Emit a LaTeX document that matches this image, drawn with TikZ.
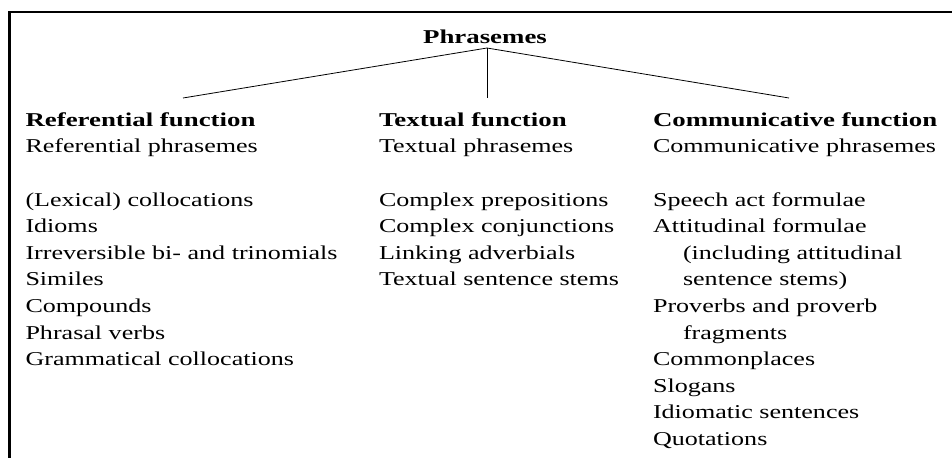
\documentclass[tikz,border=0pt]{standalone}
\usepackage{fontspec}
\setmainfont{Liberation Serif}[FakeStretch=1.33,BoldFeatures={FakeStretch=1.37}]
\usetikzlibrary{calc}
\begin{document}
\begin{tikzpicture}[x=0.75pt,y=-0.75pt,
  every node/.style={inner sep=0pt,outer sep=0pt,font=\fontsize{14.7}{20}\selectfont},
  title/.style={anchor=base,font=\fontsize{14.7}{20}\selectfont\bfseries},
  head/.style={anchor=base west,font=\fontsize{14.7}{20}\selectfont\bfseries},
  item/.style={anchor=base west},
  frame/.style={line width=1.7pt},
  branch/.style={line width=0.6pt}]
\useasboundingbox (0,0) rectangle (952,457);
% open frame: top and left rules
\draw[frame] (952,12.2) -- (9.5,12.2) -- (9.5,460);
% root
\node[title] (phr) at (485,43.3) {Phrasemes};
\coordinate (hub) at (487,48);
% column headings
\node[head] (ref) at (25.5,126) {Referential function};
\node[head] (txt) at (379,126) {Textual function};
\node[head] (com) at (653,126) {Communicative function};
\coordinate (refend) at (183,98);
\coordinate (txtend) at (487,98);
\coordinate (comend) at (789,98);
\draw[branch] (hub) -- (refend);
\draw[branch] (hub) -- (txtend);
\draw[branch] (hub) -- (comend);
% sub-headings
\node[item] (refsub) at (25.5,152.6) {Referential phrasemes};
\node[item] (txtsub) at (379,152.6) {Textual phrasemes};
\node[item] (comsub) at (653,152.6) {Communicative phrasemes};
% referential items
\foreach \t [count=\i] in {{(Lexical) collocations},Idioms,Irreversible bi- and trinomials,Similes,Compounds,Phrasal verbs,Grammatical collocations}
  \node[item] (r\i) at (25.5,{206+26.6*(\i-1)}) {\t};
% textual items
\foreach \t [count=\i] in {Complex prepositions,Complex conjunctions,Linking adverbials,Textual sentence stems}
  \node[item] (t\i) at (379,{206+26.6*(\i-1)}) {\t};
% communicative items (continuation lines indented)
\foreach \ind/\t [count=\i] in {0/Speech act formulae,0/Attitudinal formulae,30/{(including attitudinal},30/{sentence stems)},0/Proverbs and proverb,30/fragments,0/Commonplaces,0/Slogans,0/Idiomatic sentences,0/Quotations}
  \node[item] (c\i) at ({653+\ind},{206+26.6*(\i-1)}) {\t};
\end{tikzpicture}
\end{document}
